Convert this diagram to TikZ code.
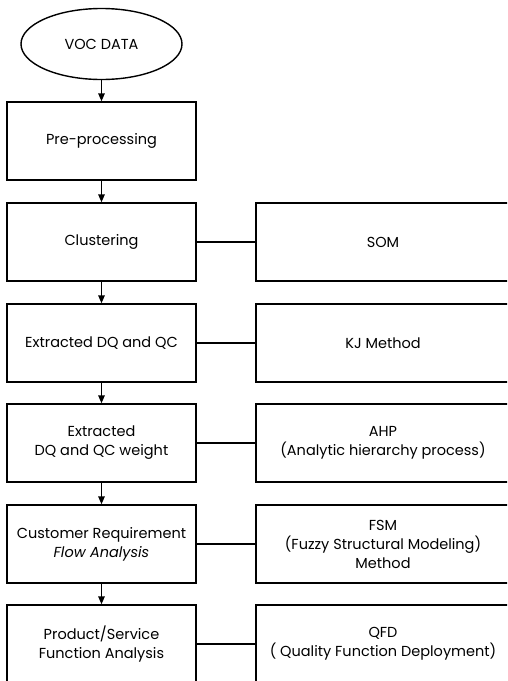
\documentclass[tikz,border=0pt]{standalone}
\usepackage{fontspec}
\setmainfont{Poppins}
\usetikzlibrary{arrows.meta,shapes.geometric}
\begin{document}
\begin{tikzpicture}[x=1pt,y=-1pt,
  every node/.style={font=\fontsize{14.5}{19}\selectfont, align=center, inner sep=0pt},
  stepbox/.style={draw, line width=1.4pt, minimum width=189pt, minimum height=78pt},
  toolbox/.style={draw, line width=1.4pt, minimum width=254pt, minimum height=78pt},
  flow/.style={line width=1.4pt, -{Triangle[length=8pt,width=6.5pt]}},
  link/.style={line width=1.4pt}]
\useasboundingbox (0,0) rectangle (507,681);
\clip (0,0) rectangle (507,681);
% start node
\node[draw, ellipse, line width=1.4pt, minimum width=161pt, minimum height=71pt] (voc) at (101.5,44) {VOC DATA};
% process steps (left column)
\node[stepbox] (pre) at (101.5,141) {Pre-processing};
\node[stepbox] (clu) at (101.5,242) {Clustering};
\node[stepbox] (ext) at (101.5,343) {Extracted DQ and QC};
\node[stepbox] (wgt) at (101.5,443) {Extracted\\DQ and QC weight};
\node[stepbox] (crf) at (101.5,544) {Customer Requirement\\\textit{Flow Analysis}};
\node[stepbox] (psf) at (101.5,644) {Product/Service\\Function Analysis};
% methods (right column)
\node[toolbox] (som) at (383,242) {SOM};
\node[toolbox] (kj)  at (383,343) {KJ Method};
\node[toolbox] (ahp) at (383,443) {AHP\\(Analytic hierarchy process)};
\node[toolbox] (fsm) at (383,544) {FSM\\(Fuzzy Structural Modeling)\\Method};
\node[toolbox] (qfd) at (383,644) {QFD\\( Quality Function Deployment)};
% flow arrows
\draw[flow] (voc) -- (pre);
\draw[flow] (pre) -- (clu);
\draw[flow] (clu) -- (ext);
\draw[flow] (ext) -- (wgt);
\draw[flow] (wgt) -- (crf);
\draw[flow] (crf) -- (psf);
% method links
\draw[link] (clu) -- (som);
\draw[link] (ext) -- (kj);
\draw[link] (wgt) -- (ahp);
\draw[link] (crf) -- (fsm);
\draw[link] (psf) -- (qfd);
\end{tikzpicture}
\end{document}
